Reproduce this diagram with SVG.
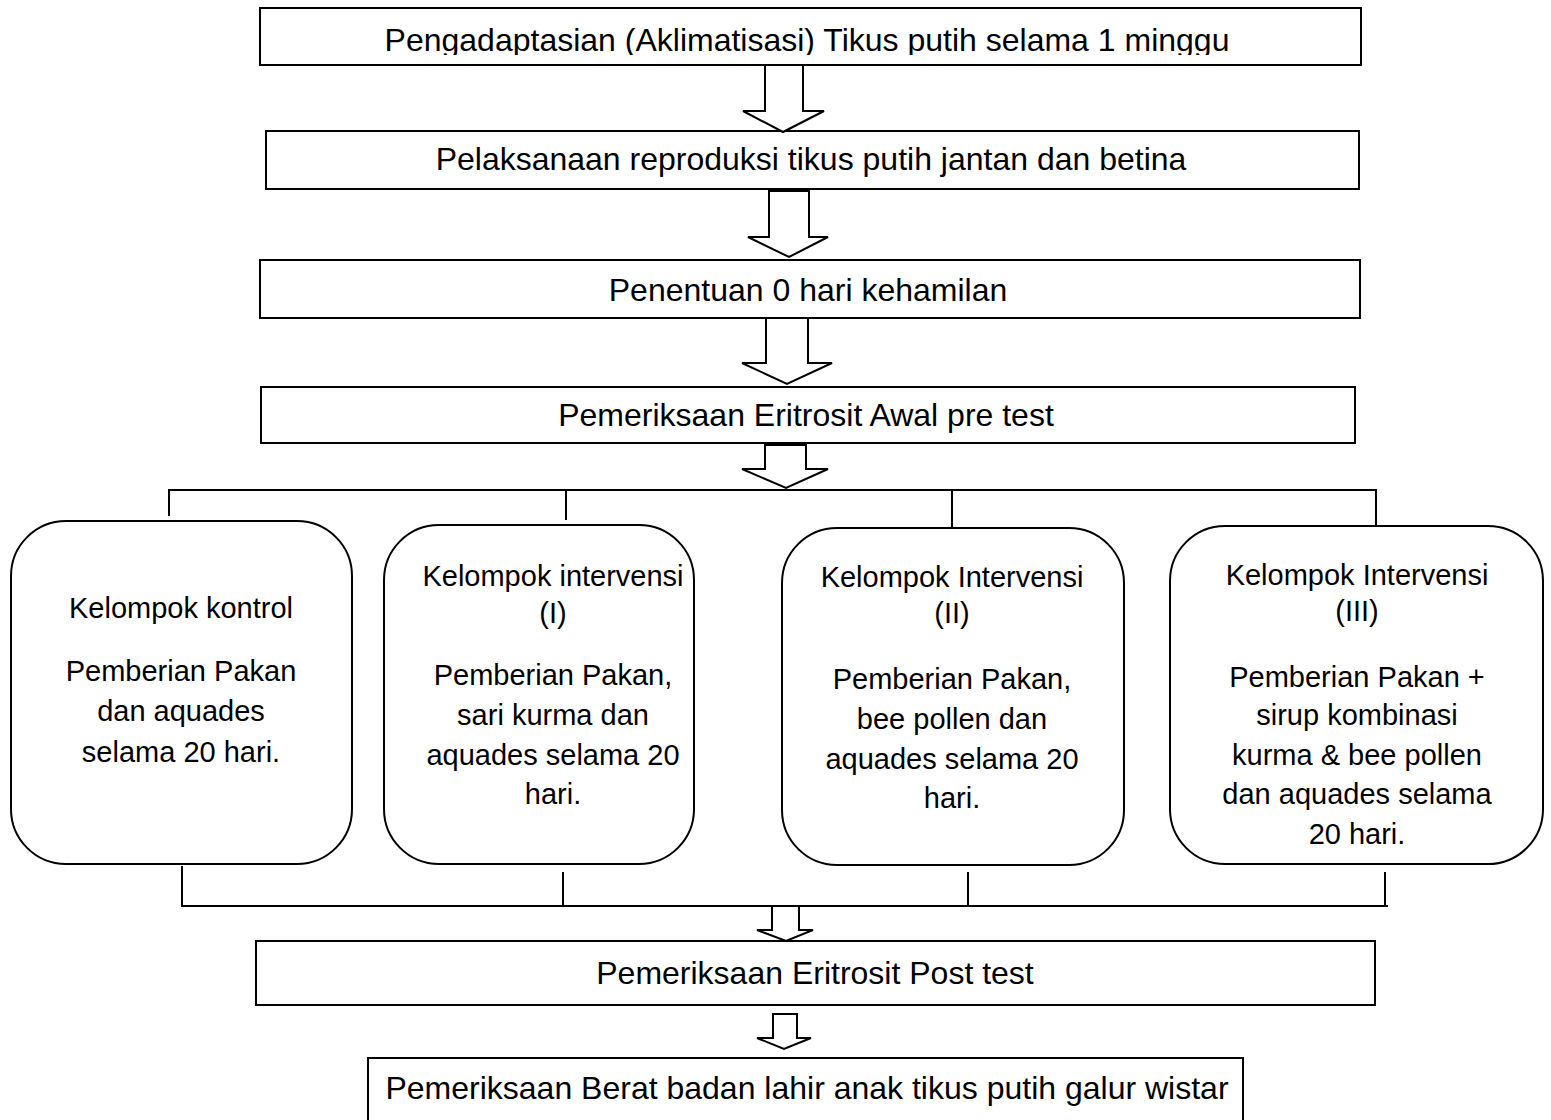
<svg xmlns="http://www.w3.org/2000/svg" width="1551" height="1120" viewBox="0 0 1551 1120">
<style>
.box{fill:#fff;stroke:#000;stroke-width:2}
.ln{fill:none;stroke:#000;stroke-width:2}
.arr{fill:#fff;stroke:#000;stroke-width:2;stroke-linejoin:miter}
.t{font-family:"Liberation Sans",Arial,sans-serif;font-size:32px;fill:#000;text-anchor:middle}
.s{font-family:"Liberation Sans",Arial,sans-serif;font-size:29px;fill:#000;text-anchor:middle}
</style>
<defs>
<clipPath id="clipD"><rect x="1170" y="520" width="380" height="328"/></clipPath>
<clipPath id="clip1"><rect x="260" y="8" width="1101" height="47"/></clipPath>
</defs>
<g id="n1"><rect class="box" x="260" y="8" width="1101" height="57"/><text class="t" x="807" y="51" clip-path="url(#clip1)">Pengadaptasian (Aklimatisasi) Tikus putih selama 1 minggu</text></g>
<g id="n2"><rect class="box" x="266" y="131" width="1093" height="58"/><text class="t" x="811" y="170">Pelaksanaan reproduksi tikus putih jantan dan betina</text></g>
<g id="n3"><rect class="box" x="260" y="260" width="1100" height="58"/><text class="t" x="808" y="301">Penentuan 0 hari kehamilan</text></g>
<g id="n4"><rect class="box" x="261" y="387" width="1094" height="56"/><text class="t" x="806" y="426">Pemeriksaan Eritrosit Awal pre test</text></g>
<g id="n5"><rect class="box" x="11" y="521" width="341" height="343" rx="55" ry="55"/>
<text class="s" x="181" y="618">Kelompok kontrol</text>
<text class="s" x="181" y="681">Pemberian Pakan</text>
<text class="s" x="181" y="721">dan aquades</text>
<text class="s" x="181" y="762">selama 20 hari.</text></g>
<g id="n6"><rect class="box" x="384" y="525" width="310" height="339" rx="55" ry="55"/>
<text class="s" x="553" y="586">Kelompok intervensi</text>
<text class="s" x="553" y="623">(I)</text>
<text class="s" x="553" y="685">Pemberian Pakan,</text>
<text class="s" x="553" y="725">sari kurma dan</text>
<text class="s" x="553" y="765">aquades selama 20</text>
<text class="s" x="553" y="804">hari.</text></g>
<g id="n7"><rect class="box" x="782" y="528" width="342" height="337" rx="55" ry="55"/>
<text class="s" x="952" y="587">Kelompok Intervensi</text>
<text class="s" x="952" y="623">(II)</text>
<text class="s" x="952" y="689">Pemberian Pakan,</text>
<text class="s" x="952" y="729">bee pollen dan</text>
<text class="s" x="952" y="769">aquades selama 20</text>
<text class="s" x="952" y="808">hari.</text></g>
<g id="n8"><rect class="box" x="1170" y="526" width="373" height="338" rx="55" ry="55"/>
<text class="s" x="1357" y="585">Kelompok Intervensi</text>
<text class="s" x="1357" y="621">(III)</text>
<text class="s" x="1357" y="687">Pemberian Pakan +</text>
<text class="s" x="1357" y="725">sirup kombinasi</text>
<text class="s" x="1357" y="765">kurma &amp; bee pollen</text>
<text class="s" x="1357" y="804">dan aquades selama</text>
<text class="s" x="1357" y="844" clip-path="url(#clipD)">20 hari.</text></g>
<g id="n9"><rect class="box" x="256" y="941" width="1119" height="64"/><text class="t" x="815" y="984">Pemeriksaan Eritrosit Post test</text></g>
<g id="n10"><rect class="box" x="368" y="1058" width="875" height="80"/><text class="t" x="807" y="1099">Pemeriksaan Berat badan lahir anak tikus putih galur wistar</text></g>
<g id="connectors">
<polygon class="arr" points="765,65 803,65 803,111 824,111 783,132 743,111 765,111"/>
<polygon class="arr" points="769,191 809,191 809,237 828,237 789,257 748,237 769,237"/>
<polygon class="arr" points="766,318 808,318 808,363 832,363 787,384 742,363 766,363"/>
<polygon class="arr" points="765,445 806,445 806,469 828,469 786,488 742,469 765,469"/>
<path class="ln" d="M169,516 V490 H1376 V525 M566,490 V520 M952,490 V527"/>
<path class="ln" d="M182,866 V906 H1388 M563,872 V906 M968,872 V906 M1385,872 V906"/>
<polygon class="arr" points="772,906 799,906 799,930 813,930 786,941 757,930 772,930"/>
<polygon class="arr" points="773,1014 797,1014 797,1038 811,1038 784,1049 757,1038 773,1038"/>
</g>
</svg>
